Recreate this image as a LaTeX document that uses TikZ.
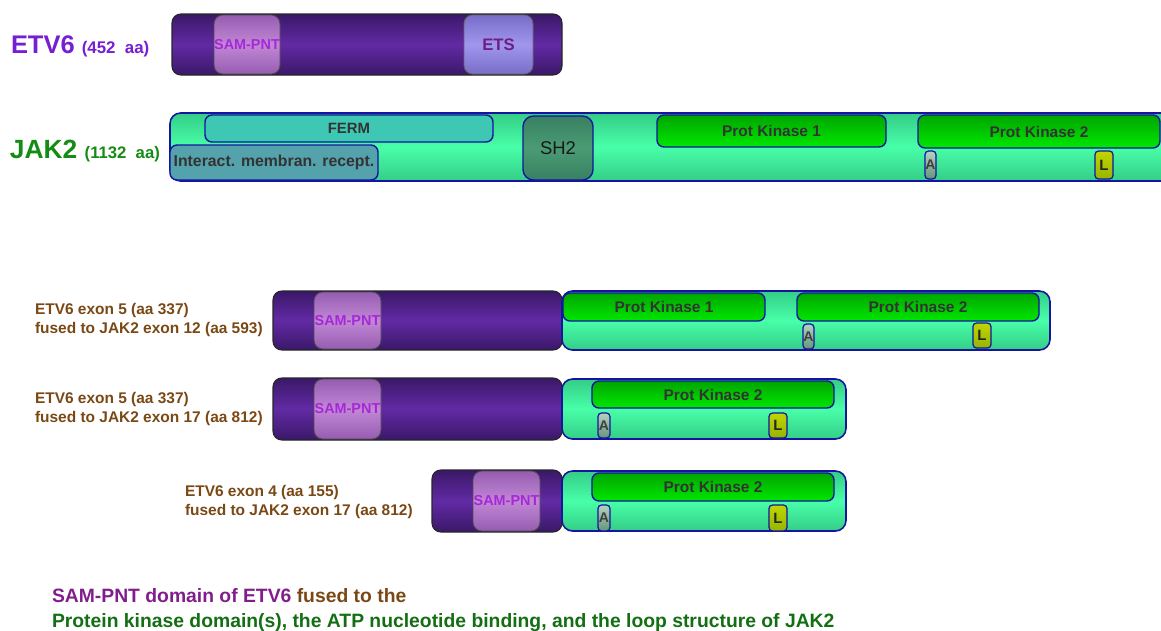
\documentclass[tikz,border=0pt]{standalone}
\usepackage{fontspec}
\setmainfont{Liberation Sans}
\usepackage{tikz}
\usetikzlibrary{positioning}
\definecolor{etvdark}{RGB}{58, 24, 104}
\definecolor{etvmid}{RGB}{98, 42, 164}
\definecolor{samdark}{RGB}{150, 92, 176}
\definecolor{samlight}{RGB}{194, 136, 214}
\definecolor{samtext}{RGB}{165, 40, 215}
\definecolor{etsdark}{RGB}{120, 110, 200}
\definecolor{etslight}{RGB}{160, 150, 238}
\definecolor{etstext}{RGB}{110, 30, 130}
\definecolor{jakline}{RGB}{20, 20, 160}
\definecolor{jakdark}{RGB}{52, 205, 135}
\definecolor{jaklight}{RGB}{72, 255, 168}
\definecolor{fermfill}{RGB}{62, 200, 180}
\definecolor{interfill}{RGB}{84, 162, 172}
\definecolor{shdark}{RGB}{56, 128, 98}
\definecolor{shlight}{RGB}{74, 156, 116}
\definecolor{pkdark}{RGB}{0, 165, 0}
\definecolor{pklight}{RGB}{0, 232, 0}
\definecolor{atpdark}{RGB}{100, 150, 120}
\definecolor{atplight}{RGB}{180, 210, 190}
\definecolor{loopdark}{RGB}{150, 180, 0}
\definecolor{looplight}{RGB}{192, 214, 0}
\definecolor{etvtitle}{RGB}{118, 30, 210}
\definecolor{jaktitle}{RGB}{20, 140, 20}
\definecolor{fusbrown}{RGB}{122, 72, 20}
\definecolor{botpurple}{RGB}{130, 30, 140}
\definecolor{botgreen}{RGB}{20, 110, 20}

\begin{document}
\begin{tikzpicture}[
    x=0.02cm, y=-0.02cm,
    every node/.style={inner sep=0pt, outer sep=0pt},
    dims/.style 2 args={rectangle, anchor=north west, minimum width=#1*0.02cm, minimum height=#2*0.02cm},
    etvbar/.style={rounded corners=5pt, draw=black!85, line width=0.6pt, top color=etvdark, bottom color=etvdark, middle color=etvmid},
    jakbar/.style={rounded corners=6pt, draw=jakline, line width=0.9pt, top color=jakdark, bottom color=jakdark, middle color=jaklight},
    samdom/.style={rounded corners=5pt, draw=black!70, line width=0.5pt, top color=samdark, bottom color=samdark, middle color=samlight, text=samtext, font=\bfseries\fontsize{8.2}{9}\selectfont},
    etsdom/.style={rounded corners=5pt, draw=black!60, line width=0.5pt, top color=etsdark, bottom color=etsdark, middle color=etslight, text=etstext, font=\bfseries\fontsize{9.5}{10}\selectfont},
    fermdom/.style={rounded corners=4pt, draw=jakline, line width=0.8pt, fill=fermfill, font=\bfseries\fontsize{8.5}{10}\selectfont, text=black!80},
    interdom/.style={rounded corners=4pt, draw=jakline, line width=0.8pt, fill=interfill, font=\bfseries\fontsize{9}{10}\selectfont, text=black!80},
    shdom/.style={rounded corners=6pt, draw=jakline, line width=0.8pt, top color=shdark, bottom color=shdark, middle color=shlight, font=\fontsize{10.5}{12}\selectfont, text=black!90},
    pkdom/.style={rounded corners=4pt, draw=jakline, line width=0.8pt, top color=pkdark, bottom color=pklight, font=\bfseries\fontsize{8.8}{10}\selectfont, text=black!80},
    atpsite/.style={rounded corners=2pt, draw=jakline, line width=0.7pt, top color=atplight, bottom color=atpdark, font=\bfseries\fontsize{8}{8}\selectfont, text=black!75},
    loopsite/.style={rounded corners=2pt, draw=jakline, line width=0.7pt, top color=looplight, bottom color=loopdark, font=\bfseries\fontsize{8.5}{9}\selectfont, text=black!85},
    fuslabel/.style={anchor=west, align=left, text=fusbrown, font=\bfseries\fontsize{8.8}{10.5}\selectfont}
]
\useasboundingbox (0,0) rectangle (1161,630);
\clip (0,0) rectangle (1161,630);

% ETV6
\node[dims={390}{61}, etvbar] (etv) at (172,14) {};
\node[dims={66}{59}, samdom] (etvsam) at (214,15) {SAM-PNT};
\node[dims={69}{59}, etsdom] (etvets) at (464,15) {ETS};
\node[anchor=base west, text=etvtitle, font=\bfseries\fontsize{14.5}{16}\selectfont] (etvlab) at (11,53) {ETV6 {\fontsize{9.6}{10}\selectfont (452\ \ aa)}};

% JAK2
\node[dims={1010}{68}, jakbar] (jak) at (170,113) {};
\node[dims={288}{27}, fermdom] (ferm) at (205,115) {FERM};
\node[dims={208}{35}, interdom] (inter) at (170,145) {Interact. membran. recept.};
\node[dims={70}{64}, shdom] (sh) at (523,116) {SH2};
\node[dims={229}{32}, pkdom] (pkone) at (657,115) {Prot Kinase 1};
\node[dims={242}{33}, pkdom] (pktwo) at (918,115) {Prot Kinase 2};
\node[dims={11}{28}, atpsite] (atp) at (925,151) {A};
\node[dims={18}{28}, loopsite] (loop) at (1095,151) {L};
\node[anchor=base west, text=jaktitle, font=\bfseries\fontsize{15}{17}\selectfont] (jaklab) at (10,158) {JAK2 {\fontsize{9.5}{10}\selectfont (1132\ \ aa)}};

% fusion 1: exon 5 / exon 12
\node[dims={289}{59}, etvbar] (fusaa) at (273,291) {};
\node[dims={488}{59}, jakbar] (fusab) at (562,291) {};
\node[dims={67}{57}, samdom] (fusasam) at (314,292) {SAM-PNT};
\node[dims={202}{28}, pkdom] (fusapkone) at (563,293) {Prot Kinase 1};
\node[dims={242}{28}, pkdom] (fusapktwo) at (797,293) {Prot Kinase 2};
\node[dims={11}{25}, atpsite] (fusaatp) at (803,324) {A};
\node[dims={18}{25}, loopsite] (fusaloop) at (973,323) {L};
\node[fuslabel] (fusalab) at (35,320) {ETV6 exon 5 (aa 337)\\fused to JAK2 exon 12 (aa 593)};

% fusion 2: exon 5 / exon 17
\node[dims={289}{62}, etvbar] (fusba) at (273,378) {};
\node[dims={284}{60}, jakbar] (fusbb) at (562,379) {};
\node[dims={67}{60}, samdom] (fusbsam) at (314,379) {SAM-PNT};
\node[dims={242}{27}, pkdom] (fusbpk) at (592,381) {Prot Kinase 2};
\node[dims={12}{25}, atpsite] (fusbatp) at (598,413) {A};
\node[dims={18}{25}, loopsite] (fusbloop) at (769,413) {L};
\node[fuslabel] (fusblab) at (35,409) {ETV6 exon 5 (aa 337)\\fused to JAK2 exon 17 (aa 812)};

% fusion 3: exon 4 / exon 17
\node[dims={130}{62}, etvbar] (fusca) at (432,470) {};
\node[dims={284}{60}, jakbar] (fuscb) at (562,471) {};
\node[dims={67}{60}, samdom] (fuscsam) at (473,471) {SAM-PNT};
\node[dims={242}{28}, pkdom] (fuscpk) at (592,473) {Prot Kinase 2};
\node[dims={12}{26}, atpsite] (fuscatp) at (598,505) {A};
\node[dims={18}{26}, loopsite] (fuscloop) at (769,505) {L};
\node[fuslabel] (fusclab) at (185,502) {ETV6 exon 4 (aa 155)\\fused to JAK2 exon 17 (aa 812)};

% bottom note
\node[anchor=base west, text=fusbrown, font=\bfseries\fontsize{11}{13}\selectfont] (notea) at (52,602) {{\color{botpurple}SAM-PNT domain of ETV6} fused to the};
\node[anchor=base west, text=botgreen, font=\bfseries\fontsize{11}{13}\selectfont] (noteb) at (52,627) {Protein kinase domain(s), the ATP nucleotide binding, and the loop structure of JAK2};

\end{tikzpicture}
\end{document}
